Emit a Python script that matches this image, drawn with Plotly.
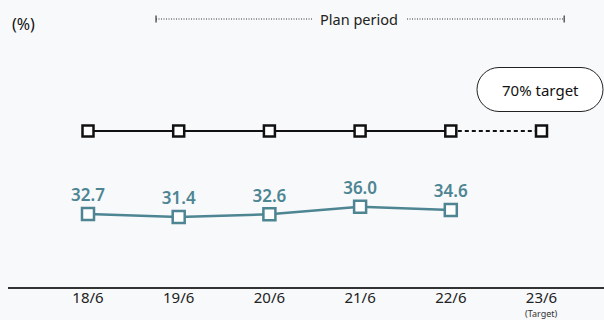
import plotly.graph_objects as go

categories = ["18/6", "19/6", "20/6", "21/6", "22/6", "23/6"]
actual = [32.7, 31.4, 32.6, 36.0, 34.6]
target = [70, 70, 70, 70, 70, 70]

TEAL = "#4d8593"
DARK = "#111111"
BG = "#f8f9fb"
FONT = "Noto Sans"

xs = list(range(len(categories)))

PX_X = 90.7   # pixels per category
PX_Y = 2.229  # pixels per percent
X0PX = 88     # pixel of first category
BASE = 287    # pixel of y=0

fig = go.Figure()

fig.add_trace(go.Scatter(
    x=xs[:5], y=target[:5], mode="lines",
    line=dict(color=DARK, width=2), hoverinfo="skip", showlegend=False))
fig.add_trace(go.Scatter(
    x=xs[4:], y=target[4:], mode="lines",
    line=dict(color=DARK, width=2, dash="4px,3px"), hoverinfo="skip", showlegend=False))
fig.add_trace(go.Scatter(
    x=xs, y=target, mode="markers",
    marker=dict(symbol="square", size=11, color="white",
                line=dict(color=DARK, width=2.5)),
    showlegend=False))

fig.add_trace(go.Scatter(
    x=xs[:5], y=actual, mode="lines+markers+text",
    line=dict(color=TEAL, width=2.5),
    marker=dict(symbol="square", size=12, color="white",
                line=dict(color=TEAL, width=2.5)),
    text=[f"{v:.1f}" for v in actual], textposition="top center",
    textfont=dict(family=FONT, size=17, color=TEAL, weight=600),
    showlegend=False))

# Plan period bracket
yb = (BASE - 19) / PX_Y
x0b, x1b = 0.75, 5.25
xl_end = (312 - X0PX) / PX_X
xr_start = (407 - X0PX) / PX_X
for a, b in [(x0b, xl_end), (xr_start, x1b)]:
    fig.add_shape(type="line", x0=a, x1=b, y0=yb, y1=yb, xref="x", yref="y",
                  line=dict(color="#333333", width=1, dash="1px,1.5px"))
for a in [x0b, x1b]:
    fig.add_shape(type="line", x0=a, x1=a, y0=yb - 1.6, y1=yb + 1.6, xref="x", yref="y",
                  line=dict(color="#333333", width=1.2))
fig.add_annotation(x=(359 - X0PX) / PX_X, y=yb, text="Plan period", showarrow=False,
                   xref="x", yref="y", font=dict(family=FONT, size=14.5, color="#222222"))

# 70% target pill
w, h = 126, 44
r = h / 2
k = 0.5523 * r
hw, hh = w / 2, h / 2
path = (f"M {-hw + r},{hh} L {hw - r},{hh} "
        f"C {hw - r + k},{hh} {hw},{k} {hw},0 "
        f"C {hw},{-k} {hw - r + k},{-hh} {hw - r},{-hh} "
        f"L {-hw + r},{-hh} "
        f"C {-hw + r - k},{-hh} {-hw},{-k} {-hw},0 "
        f"C {-hw},{k} {-hw + r - k},{hh} {-hw + r},{hh} Z")
xc = (540 - X0PX) / PX_X
yc = (BASE - 89.5) / PX_Y
fig.add_shape(type="path", xref="x", yref="y", xsizemode="pixel", ysizemode="pixel",
              xanchor=xc, yanchor=yc, path=path,
              line=dict(color="#222222", width=1), fillcolor="white")
fig.add_annotation(x=xc, y=yc, text="70% target", showarrow=False, xref="x", yref="y",
                   font=dict(family=FONT, size=15, color="#111111"))

# (%) label
fig.add_annotation(x=(10 - 8) / 596, y=(BASE - 24) / BASE, xref="paper", yref="paper",
                   text="(%)", showarrow=False, xanchor="left", yanchor="middle",
                   font=dict(family=FONT, size=16, color="#111111"))

# (Target) label
fig.add_annotation(x=(541 - 8) / 596, y=(BASE - 313) / BASE, xref="paper", yref="paper",
                   text="(Target)", showarrow=False, xanchor="center", yanchor="middle",
                   borderpad=0,
                   font=dict(family=FONT, size=9, color="#333333"))

W, H = 604, 320
fig.update_layout(
    width=W, height=H,
    margin=dict(l=8, r=0, t=0, b=33),
    paper_bgcolor=BG, plot_bgcolor=BG,
    font=dict(family=FONT),
    xaxis=dict(range=[-80 / PX_X, 516 / PX_X], tickvals=xs, ticktext=categories,
               showgrid=False, zeroline=False, showline=True, linecolor="#333333",
               linewidth=1.5, ticks="", ticklabelstandoff=-4,
               tickfont=dict(family=FONT, size=15, color="#222222"),
               fixedrange=True),
    yaxis=dict(range=[0, BASE / PX_Y], showgrid=False, zeroline=False, showline=False,
               showticklabels=False, fixedrange=True),
)

fig.write_html("out.html")
